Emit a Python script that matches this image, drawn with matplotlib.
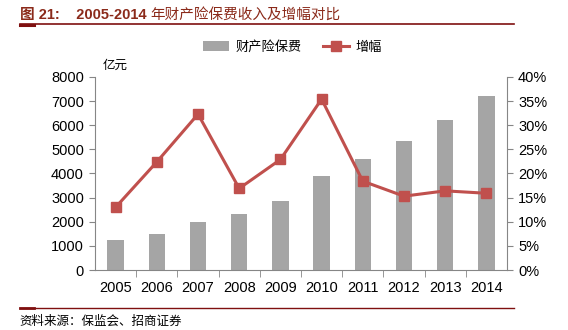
import matplotlib.pyplot as plt
import numpy as np

plt.rcParams['font.family'] = ['Liberation Sans', 'Noto Sans CJK SC', 'DejaVu Sans']

# 数据
years = ['2005', '2006', '2007', '2008', '2009', '2010', '2011', '2012', '2013', '2014']
premium = [1229, 1509, 1998, 2337, 2876, 3896, 4618, 5331, 6212, 7203]  # 亿元
growth = [13.0, 22.4, 32.3, 16.9, 22.9, 35.4, 18.4, 15.3, 16.4, 15.9]   # %

bar_color = '#A5A5A5'
line_color = '#C0504D'
axis_color = '#868686'
title_color = '#8B2A1A'
rule_color = '#7F1010'

fig = plt.figure(figsize=(5.68, 3.3), dpi=100)
ax = fig.add_axes([0.1673, 0.1818, 0.7253, 0.585])
ax2 = ax.twinx()

x = np.arange(len(years))
bars = ax.bar(x, premium, width=0.4, color=bar_color, zorder=2, label='财产险保费')
ln, = ax2.plot(x, growth, color=line_color, lw=2.2, marker='s', ms=7.5,
               zorder=3, label='增幅')
ax.set_zorder(ax2.get_zorder() - 1)
ax2.patch.set_visible(False)

ax.set_xlim(-0.5, len(years) - 0.5)
ax.set_ylim(0, 8000)
ax.set_yticks(np.arange(0, 8001, 1000))
ax2.set_ylim(0, 40)
ax2.set_yticks(np.arange(0, 41, 5))
ax2.set_yticklabels([f'{v}%' for v in range(0, 41, 5)])

ax.set_xticks(x)
ax.set_xticklabels(years)
ax.set_xticks(np.arange(0.5, len(years) - 1, 1), minor=True)
ax.tick_params(axis='x', which='major', length=0, pad=8, labelsize=10.5)
ax.tick_params(axis='x', which='minor', length=5, direction='out', color=axis_color)
ax.tick_params(axis='y', length=4, color=axis_color, labelsize=10.5, pad=4)
ax2.tick_params(axis='y', length=4, color=axis_color, labelsize=10.5, pad=4)

for a in (ax, ax2):
    a.spines['top'].set_visible(False)
    for s in ('left', 'right', 'bottom'):
        a.spines[s].set_color(axis_color)
ax.spines['right'].set_visible(False)
ax2.spines['left'].set_visible(False)
ax2.spines['bottom'].set_visible(False)

fig.text(0.18, 0.79, '亿元', fontsize=9, family=['Noto Sans CJK SC'])

fig.legend(handles=[bars, ln], loc='center', bbox_to_anchor=(0.515, 0.857), ncol=2,
           frameon=False, handlelength=2.0, columnspacing=1.6, handletextpad=0.5,
           prop={'family': ['Noto Sans CJK SC'], 'size': 9.5})

# 标题与分割线
t1 = fig.text(0.035, 0.955, '图 21:    2005-2014 ', fontsize=10.5,
              fontweight='bold', color=title_color, va='center',
              family=['Liberation Sans', 'Noto Sans CJK SC'])
fig.canvas.draw()
fig.text(0, 0, '年财产险保费收入及增幅对比', fontsize=10.5, color=title_color,
         va='center', family=['Noto Sans CJK SC'], fontweight='medium',
         transform=fig.transFigure)
bb = t1.get_window_extent().transformed(fig.transFigure.inverted())
fig.texts[-1].set_position((bb.x1, 0.955))

fig.add_artist(plt.Line2D([0.035, 0.905], [0.927, 0.927], color=rule_color, lw=1.2))
fig.add_artist(plt.Line2D([0.035, 0.06], [0.924, 0.924], color=rule_color, lw=2.2))

fig.add_artist(plt.Line2D([0.035, 0.905], [0.068, 0.068], color=rule_color, lw=1.0))
fig.add_artist(plt.Line2D([0.035, 0.06], [0.068, 0.068], color=rule_color, lw=2.0))
fig.text(0.035, 0.025, '资料来源：保监会、招商证券', fontsize=9, va='center',
         family=['Noto Sans CJK SC'])

fig.savefig('out.png', dpi=100)
